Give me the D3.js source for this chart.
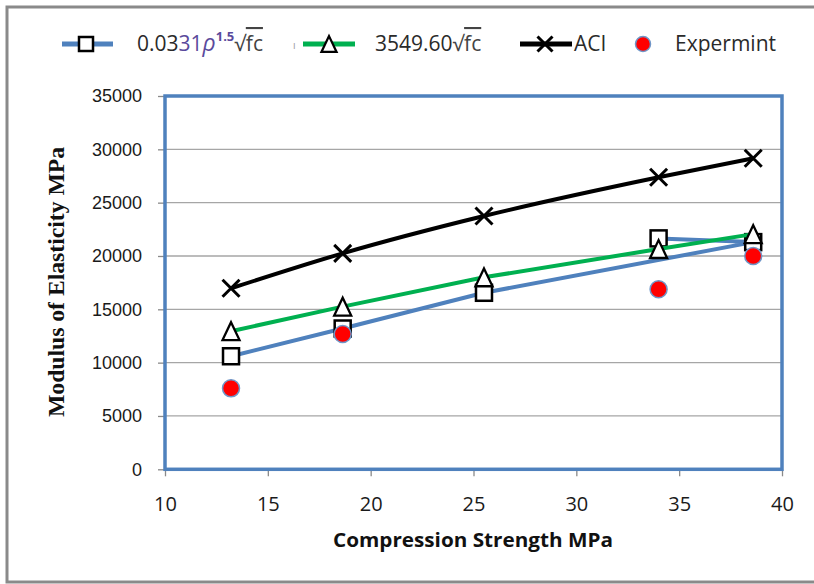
<!DOCTYPE html>
<html><head><meta charset="utf-8">
<script src="https://cdn.jsdelivr.net/npm/d3@7"></script>
<style>
html,body{margin:0;padding:0;background:#fff;}
svg{display:block;}
</style></head>
<body>
<svg id="chart" width="814" height="584"></svg>
<script>
// ---- data ----
const xTickValues = [10, 15, 20, 25, 30, 35, 40];
const yTickValues = [0, 5000, 10000, 15000, 20000, 25000, 30000, 35000];
const strength = [13.21, 18.64, 25.51, 34.0, 38.6];
// blue series plotted in the sheet's row order (last two rows swapped)
const densityX = [13.21, 18.64, 25.51, 38.6, 34.0];
const densityY = [10600, 13200, 16550, 21300, 21650];
const greenY = [12950, 15250, 18000, 20650, 22050];
const aciY = [16970, 20250, 23750, 27380, 29160];
const expX = [13.21, 18.64, 34.0, 38.6];
const expY = [7590, 12690, 16880, 20000];

const svg = d3.select("#chart");
const L = 165, R = 782, T = 96, B = 469.3;
const x = d3.scaleLinear().domain([10, 40]).range([L, R]);
const y = d3.scaleLinear().domain([0, 35000]).range([B, T]);

// outer frame
svg.append("rect").attr("x", 7).attr("y", 7).attr("width", 830).attr("height", 575)
  .attr("fill", "none").attr("stroke", "#8a8a8a").attr("stroke-width", 3);

// gridlines
svg.append("g").selectAll("line").data(yTickValues.filter(d => d > 0)).join("line")
  .attr("x1", L).attr("x2", R).attr("y1", d => y(d)).attr("y2", d => y(d))
  .attr("stroke", "#a6a6a6").attr("stroke-width", 1.3);

// axes
const yAxis = svg.append("g").attr("transform", `translate(${L},0)`)
  .call(d3.axisLeft(y).tickValues(yTickValues).tickSize(7).tickPadding(16).tickFormat(d3.format("d")));
yAxis.select(".domain").remove();
yAxis.selectAll(".tick line").attr("stroke", "#8a8a8a").attr("stroke-width", 1.3);
yAxis.selectAll(".tick text").attr("font-family", "'Liberation Sans', Arial, sans-serif")
  .attr("font-size", 18).attr("fill", "#1a1a1a");

const xAxis = svg.append("g").attr("transform", `translate(0,${B})`)
  .call(d3.axisBottom(x).tickValues(xTickValues).tickSize(7).tickPadding(21));
xAxis.select(".domain").remove();
xAxis.selectAll(".tick line").attr("stroke", "#8a8a8a").attr("stroke-width", 1.3);
xAxis.selectAll(".tick text").attr("font-family", "'Open Sans', sans-serif")
  .attr("font-size", 20).attr("fill", "#1a1a1a");

// plot border
svg.append("rect").attr("x", L).attr("y", T).attr("width", R - L).attr("height", B - T)
  .attr("fill", "none").attr("stroke", "#4f81bd").attr("stroke-width", 3.5);

// marker helpers
function square(g, cx, cy, s) {
  g.append("rect").attr("x", cx - s / 2).attr("y", cy - s / 2).attr("width", s).attr("height", s)
    .attr("fill", "#fff").attr("stroke", "#000").attr("stroke-width", 2.5);
}
function triangle(g, cx, cy, s) {
  const h = s * 1.05;
  g.append("path").attr("d", `M${cx},${cy - h / 2}L${cx + s / 2},${cy + h / 2}L${cx - s / 2},${cy + h / 2}Z`)
    .attr("fill", "#fff").attr("stroke", "#000").attr("stroke-width", 2.3).attr("stroke-linejoin", "miter");
}
function cross(g, cx, cy, s) {
  g.append("path").attr("d", `M${cx - s / 2},${cy - s / 2}L${cx + s / 2},${cy + s / 2}M${cx + s / 2},${cy - s / 2}L${cx - s / 2},${cy + s / 2}`)
    .attr("stroke", "#000").attr("stroke-width", 3).attr("fill", "none");
}
function dot(g, cx, cy, r) {
  g.append("circle").attr("cx", cx).attr("cy", cy).attr("r", r)
    .attr("fill", "#ff0000").attr("stroke", "#6f96c8").attr("stroke-width", 1.5);
}

const line = d3.line().x(d => x(d[0])).y(d => y(d[1]));

// blue series
const gBlue = svg.append("g");
gBlue.append("path").datum(d3.zip(densityX, densityY)).attr("d", line)
  .attr("fill", "none").attr("stroke", "#4f81bd").attr("stroke-width", 4).attr("stroke-linejoin", "round");
densityX.forEach((v, i) => square(gBlue, x(v), y(densityY[i]), 16));

// green series
const gGreen = svg.append("g");
gGreen.append("path").datum(d3.zip(strength, greenY)).attr("d", line)
  .attr("fill", "none").attr("stroke", "#00b050").attr("stroke-width", 4).attr("stroke-linejoin", "round");
strength.forEach((v, i) => triangle(gGreen, x(v), y(greenY[i]), 17));

// ACI
const gAci = svg.append("g");
gAci.append("path").datum(d3.zip(strength, aciY)).attr("d", line.curve(d3.curveMonotoneX))
  .attr("fill", "none").attr("stroke", "#000").attr("stroke-width", 4).attr("stroke-linejoin", "round");
strength.forEach((v, i) => cross(gAci, x(v), y(aciY[i]), 17));

// experiment
const gExp = svg.append("g");
expX.forEach((v, i) => dot(gExp, x(v), y(expY[i]), 8.5));

// axis titles
svg.append("text").attr("x", 473).attr("y", 547).attr("text-anchor", "middle")
  .attr("font-family", "'Open Sans', sans-serif").attr("font-weight", "bold").attr("font-size", 20)
  .attr("textLength", 280).attr("lengthAdjust", "spacingAndGlyphs")
  .attr("fill", "#111").text("Compression Strength MPa");
svg.append("text").attr("transform", "translate(64,282) rotate(-90)").attr("text-anchor", "middle")
  .attr("font-family", "'Liberation Serif', 'Times New Roman', serif").attr("font-weight", "bold").attr("font-size", 23)
  .attr("textLength", 270).attr("lengthAdjust", "spacingAndGlyphs")
  .attr("fill", "#111").text("Modulus of Elasticity MPa");

// legend
const lg = svg.append("g");
const ly = 44;
const lf = "'Open Sans', sans-serif";
// blue
lg.append("line").attr("x1", 62).attr("x2", 113).attr("y1", ly).attr("y2", ly).attr("stroke", "#4f81bd").attr("stroke-width", 5);
square(lg, 86, ly, 14);
const t1 = lg.append("text").attr("x", 137).attr("y", ly + 7).attr("font-family", lf).attr("font-size", 21).attr("fill", "#2a2a2a");
t1.append("tspan").text("0.03");
t1.append("tspan").attr("fill", "#5a4a9c").text("31");
t1.append("tspan").attr("fill", "#5a4a9c").attr("font-style", "italic").attr("font-size", 23).text("ρ");
t1.append("tspan").attr("fill", "#5a4a9c").attr("font-size", 13).attr("font-weight", "bold").attr("dy", -10).text("1.5");
t1.append("tspan").attr("dy", 10).attr("fill", "#444").text("√");
t1.append("tspan").attr("fill", "#444").attr("text-decoration", "overline").text("fc");
lg.append("text").attr("x", 293).attr("y", ly + 5).attr("font-family", lf).attr("font-size", 10).attr("fill", "#999").text("ı");
// green
lg.append("line").attr("x1", 303).attr("x2", 355).attr("y1", ly).attr("y2", ly).attr("stroke", "#00b050").attr("stroke-width", 5);
triangle(lg, 329, ly, 15);
const t2 = lg.append("text").attr("x", 375).attr("y", ly + 7).attr("font-family", lf).attr("font-size", 21).attr("fill", "#2a2a2a");
t2.append("tspan").text("3549.60");
t2.append("tspan").attr("fill", "#444").text("√");
t2.append("tspan").attr("fill", "#444").attr("text-decoration", "overline").text("fc");
// ACI
lg.append("line").attr("x1", 520).attr("x2", 572).attr("y1", ly).attr("y2", ly).attr("stroke", "#000").attr("stroke-width", 5);
cross(lg, 545, ly, 15);
lg.append("text").attr("x", 574).attr("y", ly + 7).attr("font-family", lf).attr("font-size", 21).attr("fill", "#2a2a2a").text("ACI");
// experiment
dot(lg, 643, ly, 7.5);
lg.append("text").attr("x", 675).attr("y", ly + 7).attr("font-family", lf).attr("font-size", 21).attr("fill", "#2a2a2a").text("Expermint");
</script>
</body></html>
